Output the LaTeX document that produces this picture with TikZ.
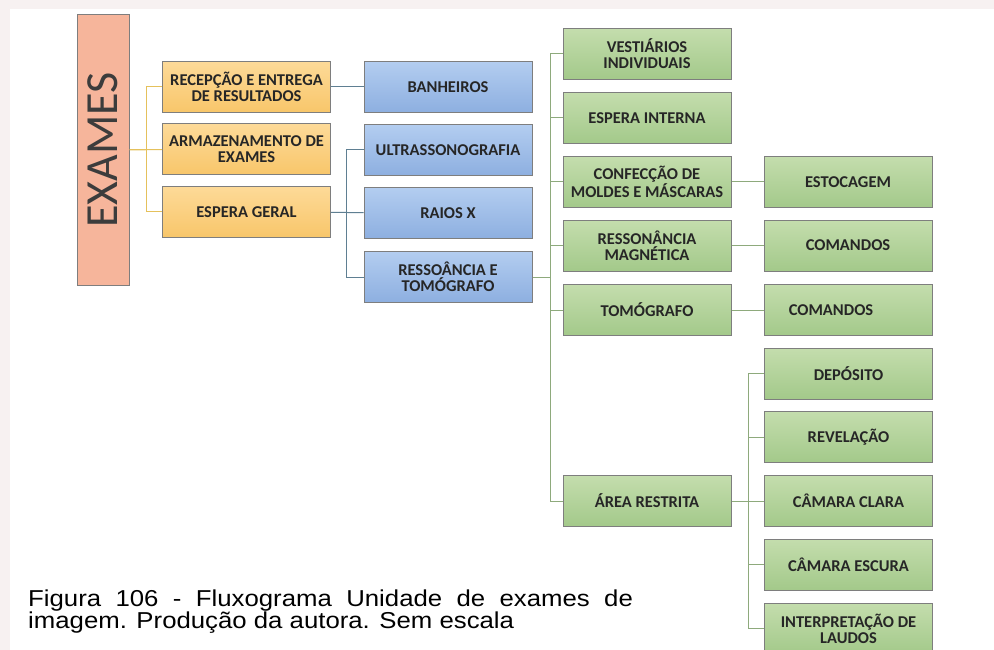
\documentclass[tikz,border=0pt]{standalone}
\usepackage{fontspec}
\setmainfont{Carlito}
\newfontfamily\legendafont{Liberation Sans}
\usetikzlibrary{positioning}

\definecolor{fundo}{HTML}{F7F1F1}
\definecolor{borda}{HTML}{7E7E7E}
\definecolor{texto}{HTML}{262626}
\definecolor{salmao}{HTML}{F6B59B}
\definecolor{laranjaA}{HTML}{FDDA98}
\definecolor{laranjaB}{HTML}{F8C66A}
\definecolor{azulA}{HTML}{B3CDF0}
\definecolor{azulB}{HTML}{8DAFE0}
\definecolor{verdeA}{HTML}{C4DDAD}
\definecolor{verdeB}{HTML}{A3C98A}
\definecolor{linhaL}{HTML}{E5C15C}
\definecolor{linhaA}{HTML}{5F7F92}
\definecolor{linhaV}{HTML}{8EAA7C}

\begin{document}
\begin{tikzpicture}[x=1pt, y=-1pt,
    caixa/.style={rectangle, draw=borda, line width=1pt, minimum width=168pt, minimum height=51pt,
        inner sep=2pt, align=center, text=texto, font=\fontsize{16.5}{16}\selectfont\bfseries},
    laranja/.style={caixa, top color=laranjaA, bottom color=laranjaB},
    azul/.style={caixa, top color=azulA, bottom color=azulB},
    verde/.style={caixa, top color=verdeA, bottom color=verdeB},
    ramo/.style={line width=1pt}]
\useasboundingbox (0,0) rectangle (994,650);
\fill[fundo] (0,0) rectangle (994,650);
\fill[white] (10,9) rectangle (994,650);

% Coluna principal
\node (exames) [rectangle, draw=borda, line width=1pt, fill=salmao, minimum width=270pt, minimum height=52pt,
    rotate=90, text=texto!90, font=\fontsize{46}{46}\selectfont] at (103, 150) {EXAMES};

% Primeiro nível (laranja)
\node (recepcao) [laranja] at (246.5, 87) {RECEPÇÃO E ENTREGA\\DE RESULTADOS};
\node (armazenamento) [laranja] at (246.5, 149.5) {ARMAZENAMENTO DE\\EXAMES};
\node (esperageral) [laranja] at (246.5, 212) {ESPERA GERAL};

% Segundo nível (azul)
\node (banheiros) [azul] at (448, 87) {BANHEIROS};
\node (ultrasson) [azul] at (448, 150) {ULTRASSONOGRAFIA};
\node (raiosx) [azul] at (448, 213) {RAIOS X};
\node (ressoancia) [azul] at (448, 277) {RESSOÂNCIA E\\TOMÓGRAFO};

% Terceiro nível (verde)
\node (vestiarios) [verde] at (647, 54) {VESTIÁRIOS\\INDIVIDUAIS};
\node (esperainterna) [verde] at (647, 118) {ESPERA INTERNA};
\node (confeccao) [verde] at (647, 182) {CONFECÇÃO DE\\MOLDES E MÁSCARAS};
\node (ressmagnetica) [verde] at (647, 245.5) {RESSONÂNCIA\\MAGNÉTICA};
\node (tomografo) [verde] at (647, 310) {TOMÓGRAFO};
\node (arearestrita) [verde] at (647, 501) {ÁREA RESTRITA};

% Quarto nível (verde)
\node (estocagem) [verde, right=32pt of confeccao] {ESTOCAGEM};
\node (comandosres) [verde, right=32pt of ressmagnetica] {COMANDOS};
\node (comandostom) [verde, right=32pt of tomografo] {COMANDOS\hspace*{34pt}};
\node (deposito) [verde] at (848.5, 373.5) {DEPÓSITO};
\node (revelacao) [verde] at (848.5, 437) {REVELAÇÃO};
\node (camaraclara) [verde] at (848.5, 501) {CÂMARA CLARA};
\node (camaraescura) [verde] at (848.5, 564.5) {CÂMARA ESCURA};
\node (interpretacao) [verde] at (848.5, 628.5) {INTERPRETAÇÃO DE\\LAUDOS};

% Ligações
\draw[ramo, linhaL] (exames.south) -- (armazenamento.west);
\draw[ramo, linhaL] (exames.south) -- ++(17,0) |- (recepcao.west);
\draw[ramo, linhaL] (exames.south) -- ++(17,0) |- (esperageral.west);

\draw[ramo, linhaA] (recepcao) -- (banheiros);
\draw[ramo, linhaA] (esperageral) -- (raiosx);
\draw[ramo, linhaA] (ultrasson.west) -- ++(-17,0) |- (ressoancia.west);

\draw[ramo, linhaV] (ressoancia.east) -- ++(18,0) coordinate (jv);
\foreach \b in {vestiarios, esperainterna, confeccao, ressmagnetica, tomografo, arearestrita}
    \draw[ramo, linhaV] (jv) |- (\b.west);
\draw[ramo, linhaV] (confeccao) -- (estocagem);
\draw[ramo, linhaV] (ressmagnetica) -- (comandosres);
\draw[ramo, linhaV] (tomografo) -- (comandostom);
\draw[ramo, linhaV] (arearestrita.east) -- ++(17,0) coordinate (jr);
\foreach \b in {deposito, revelacao, camaraclara, camaraescura, interpretacao}
    \draw[ramo, linhaV] (jr) |- (\b.west);

% Legenda
\node (legenda) [anchor=base west, inner sep=0pt, font=\legendafont\fontsize{23}{22}\selectfont] at (28, 606)
    {\scalebox{1.12}[1]{\parbox[t]{540pt}{Figura 106 - Fluxograma Unidade de exames de\linebreak imagem. Produção da autora. Sem escala}}};
\end{tikzpicture}
\end{document}
